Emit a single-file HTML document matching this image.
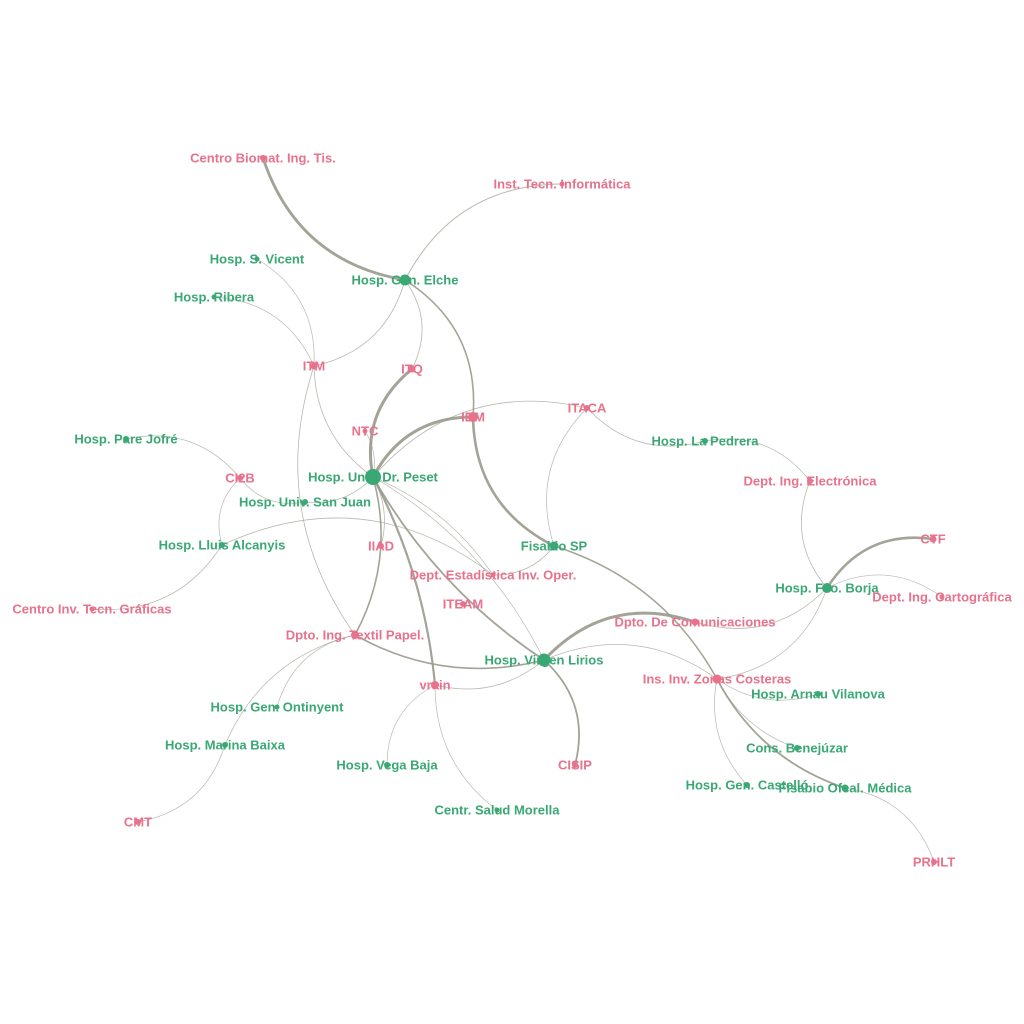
<!DOCTYPE html>
<html><head><meta charset="utf-8"><style>
html,body{margin:0;padding:0;background:#fff}
svg{display:block}
text{font-family:"Liberation Sans",sans-serif;font-size:13px;font-weight:bold;text-anchor:middle;dominant-baseline:central}
</style></head><body>
<svg id="s" width="1024" height="1024" viewBox="0 0 1024 1024" xmlns="http://www.w3.org/2000/svg">
<g id="e" fill="none" stroke="#9a998c"></g><g id="n"></g><g id="t"></g>
</svg>
<script>
var P="#e8728c",G="#3aa874";
var N={
cb:[263,158,"Centro Biomat. Ing. Tis.",P,3],
iti:[562,184,"Inst. Tecn. Informática",P,2.5],
itm:[314,366,"ITM",P,3.5],
itq:[412,369,"ITQ",P,3.5],
ntc:[365,431,"NTC",P,2.5],
idm:[473,417,"IDM",P,5],
itaca:[587,408,"ITACA",P,3],
ci2b:[240,478,"CI2B",P,3],
iiad:[381,546,"IIAD",P,3],
est:[493,575,"Dept. Estadística Inv. Oper.",P,2.5],
iteam:[463,604,"ITEAM",P,3],
tex:[355,635,"Dpto. Ing. Textil Papel.",P,4],
vrain:[435,685,"vrain",P,4],
cisip:[575,765,"CISIP",P,3],
cig:[92,609,"Centro Inv. Tecn. Gráficas",P,2.5],
cmt:[138,822,"CMT",P,3],
elec:[810,481,"Dept. Ing. Electrónica",P,3],
ctf:[933,539,"CTF",P,3.5],
cart:[942,597,"Dept. Ing. Cartográfica",P,2.5],
com:[695,622,"Dpto. De Comunicaciones",P,3.5],
zon:[717,679,"Ins. Inv. Zonas Costeras",P,4.5],
prh:[934,862,"PRHLT",P,3],
sv:[257,259,"Hosp. S. Vicent",G,2.5],
rib:[214,297,"Hosp. Ribera",G,2.5],
elche:[405,280,"Hosp. Gen. Elche",G,5.5],
pj:[126,439,"Hosp. Pare Jofré",G,3],
pes:[373,477,"Hosp. Univ. Dr. Peset",G,8],
sj:[305,502,"Hosp. Univ. San Juan",G,3],
alc:[222,545,"Hosp. Lluis Alcanyis",G,3],
ped:[705,441,"Hosp. La Pedrera",G,3],
fsp:[554,546,"Fisabio SP",G,4.5],
bor:[827,588,"Hosp. Fco. Borja",G,5],
vir:[544,660,"Hosp. Virgen Lirios",G,6.5],
ont:[277,707,"Hosp. Gen. Ontinyent",G,2.5],
mar:[225,745,"Hosp. Marina Baixa",G,3],
vb:[387,765,"Hosp. Vega Baja",G,3],
mor:[497,810,"Centr. Salud Morella",G,2.5],
arn:[818,694,"Hosp. Arnau Vilanova",G,3],
ben:[797,748,"Cons. Benejúzar",G,3],
cas:[747,785,"Hosp. Gen. Castelló",G,3],
fom:[845,788,"Fisabio Ofcal. Médica",G,3.5]
};
var E=[
["cb","elche",.3,2.8],["elche","idm",-.3,1.6],["idm","fsp",.3,2.6],
["pes","itq",-.3,3],["pes","idm",-.3,3],["pes","vrain",-.1,2.2],["pes","vir",.12,1.8],
["pes","tex",-.2,1.6],["tex","vir",.2,1.6],["vir","com",-.32,3],["vir","cisip",-.3,1.8],
["fsp","zon",-.2,1.5],["zon","fom",.2,1.8],["bor","ctf",-.32,2.6],
["pes","itaca",-.3,.8],["fsp","itaca",-.3,.7],["itaca","ped",.3,.8],["elec","bor",.3,.8],
["ped","elec",-.3,.7],["bor","cart",-.3,.7],["com","bor",.3,.8],["zon","bor",.3,.7],
["zon","arn",.25,.7],["zon","ben",.2,.7],["zon","cas",.25,.7],["vir","zon",-.28,.8],
["fom","prh",-.3,.7],["est","fsp",.25,.8],["alc","est",-.3,.8],["pes","est",-.15,.7],
["pes","iiad",-.2,.8],["pes","ntc",.2,.7],["pes","sj",-.25,.8],["pes","itm",-.25,.8],
["pes","vir",-.15,.7],["itm","elche",.3,.8],["itm","sv",.3,.7],["itm","rib",.3,.7],
["itm","tex",.25,.8],["elche","iti",-.3,1],["elche","itq",-.3,.8],
["ci2b","pj",.3,.7],["ci2b","alc",.3,.7],["alc","cig",-.3,.7],["ci2b","sj",.3,.7],
["tex","ont",.3,.7],["tex","mar",.25,.7],["mar","cmt",-.3,.7],
["vrain","vb",.3,.7],["vrain","mor",.25,.7],["vrain","vir",.25,.8]
];
var ns="http://www.w3.org/2000/svg",eg=document.getElementById("e"),ng=document.getElementById("n"),tg=document.getElementById("t");
E.forEach(function(d){var a=N[d[0]],b=N[d[1]],dx=b[0]-a[0],dy=b[1]-a[1];
var cx=(a[0]+b[0])/2-dy*d[2],cy=(a[1]+b[1])/2+dx*d[2];
var p=document.createElementNS(ns,"path");p.setAttribute("d","M"+a[0]+" "+a[1]+"Q"+cx+" "+cy+" "+b[0]+" "+b[1]);
p.setAttribute("stroke-width",d[3]);p.setAttribute("stroke-opacity",d[3]>1.2?.9:.7);eg.appendChild(p);});
for(var k in N){var v=N[k];var c=document.createElementNS(ns,"circle");c.setAttribute("cx",v[0]);c.setAttribute("cy",v[1]);c.setAttribute("r",v[4]);c.setAttribute("fill",v[3]);ng.appendChild(c);
var t=document.createElementNS(ns,"text");t.setAttribute("x",v[0]);t.setAttribute("y",v[1]);t.setAttribute("fill",v[3]);t.textContent=v[2];tg.appendChild(t);}
</script>
</body></html>
